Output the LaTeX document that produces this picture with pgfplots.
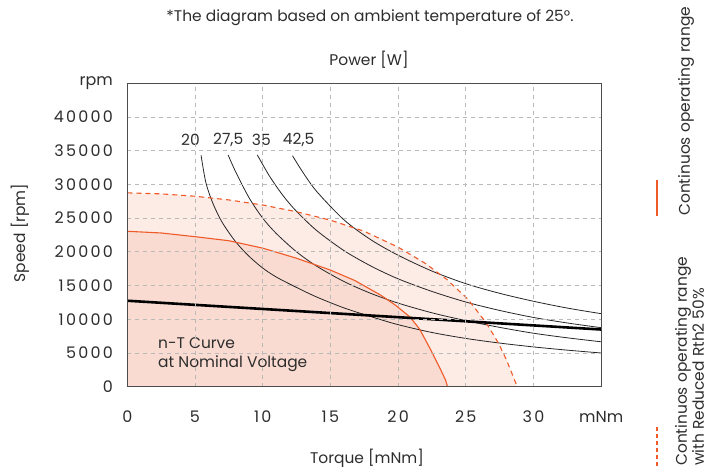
\documentclass[border=0pt]{standalone}
\usepackage{pgfplots}
\pgfplotsset{compat=1.18}
\usepackage{fontspec}
\setmainfont{Poppins}
\newfontfamily\numfont{Poppins}[LetterSpace=14]
\definecolor{orng}{RGB}{240,90,40}
\definecolor{pinkA}{RGB}{253,235,230}
\definecolor{pinkB}{RGB}{249,219,209}
\definecolor{gridc}{RGB}{185,185,185}
\definecolor{txt}{RGB}{45,45,45}

\begin{document}
\begin{tikzpicture}[font=\fontsize{15.5}{18}\selectfont, text=txt]
\useasboundingbox (0,0) rectangle (708bp,470bp);
\begin{axis}[
  at={(127.3bp,83.3bp)}, anchor=south west,
  scale only axis, width=473.9bp, height=303.4bp,
  xmin=0, xmax=35, ymin=0, ymax=45000,
  xtick={0,5,...,35}, xticklabels={0,5,10,15,20,25,30,{\rmfamily mNm}},
  ytick={0,5000,...,45000},
  yticklabels={0,5000,10000,15000,20000,25000,30000,35000,40000,{\rmfamily rpm}},
  scaled ticks=false,
  major tick length=0,
  grid=major,
  grid style={gridc, dash pattern=on 4bp off 4bp, line width=0.8bp},
  axis line style={draw=black!70, line width=0.9bp},
  axis on top,
  /pgf/number format/assume math mode=true,
  tick label style={font=\numfont\fontsize{16}{18}\selectfont, text=txt},
  xticklabel style={yshift=-21bp},
  yticklabel style={xshift=-11bp},
]
% continuous operating range with reduced Rth2 50 %
\addplot[draw=none, fill=pinkA] coordinates {
  (0,28750)(2.5,28600)(5,28250)(7.5,27700)(10,26950)(12.5,25950)(15,24700)
  (17.5,23050)(20,20700)(22,18300)(23.6,15900)(25.15,13000)(26.5,9500)
  (27.4,6500)(28,4000)(28.5,1500)(28.8,0)} \closedcycle;
% continuous operating range
\addplot[draw=none, fill=pinkB] coordinates {
  (0,23050)(2.5,22800)(5,22250)(7.5,21650)(10,20550)(12.5,19050)(15,17300)
  (16.8,15750)(18.7,13600)(19.8,12100)(20.9,10300)(21.6,8500)(22.4,5500)
  (23.1,2700)(23.5,1000)(23.65,0)} \closedcycle;

% power curves
\addplot[black!85, line width=0.8bp, smooth] coordinates {
  (5.45,34300)(5.8,30300)(6.3,27300)(7,24400)(8,21500)(9,19330)(10,17600)
  (11,16270)(12.5,14720)(14,13290)(16,11690)(18,10390)(20,9200)(22.5,8040)
  (25,7160)(27.5,6470)(30,5900)(32.5,5420)(35,5000)};
\addplot[black!85, line width=0.8bp, smooth] coordinates {
  (7.45,34360)(8,31880)(9,28000)(10,25000)(11,22730)(12.5,20000)(14,17860)
  (16,15600)(18,13830)(20,12400)(22.5,10960)(25,9800)(27.5,8800)(30,7930)
  (32.5,7250)(35,6660)};
\addplot[black!85, line width=0.8bp, smooth] coordinates {
  (9.6,34380)(10.5,31240)(11.5,28350)(12.5,26000)(14,23140)(16,20190)
  (18,17890)(20,16000)(22.5,14130)(25,12560)(27.5,11310)(30,10270)
  (32.5,9450)(35,8750)};
\addplot[black!85, line width=0.8bp, smooth] coordinates {
  (12.2,34260)(13,31700)(14,28930)(16,24750)(18,21780)(20,19500)(22.5,17150)
  (25,15280)(27.5,13850)(30,12670)(32.5,11660)(35,10830)};

% boundary lines
\addplot[orng, line width=1.1bp, dash pattern=on 5bp off 4bp] coordinates {
  (0,28750)(2.5,28600)(5,28250)(7.5,27700)(10,26950)(12.5,25950)(15,24700)
  (17.5,23050)(20,20700)(22,18300)(23.6,15900)(25.15,13000)(26.5,9500)
  (27.4,6500)(28,4000)(28.5,1500)(28.8,0)};
\addplot[orng, line width=1.1bp] coordinates {
  (0,23050)(2.5,22800)(5,22250)(7.5,21650)(10,20550)(12.5,19050)(15,17300)
  (16.8,15750)(18.7,13600)(19.8,12100)(20.9,10300)(21.6,8500)(22.4,5500)
  (23.1,2700)(23.5,1000)(23.65,0)};

% n-T curve at nominal voltage
\addplot[black, line width=2.6bp] coordinates {(0,12750)(35,8480)};

\node[inner sep=0] at (axis cs:4.67,36600) {20};
\node[inner sep=0] at (axis cs:7.45,36600) {27,5};
\node[inner sep=0] at (axis cs:9.9,36600) {35};
\node[inner sep=0] at (axis cs:12.65,36600) {42,5};
\node[inner sep=0, anchor=west, align=left, font=\fontsize{15.5}{18.5}\selectfont]
  at (axis cs:2.27,4750) {n-T Curve\\at Nominal Voltage};
\end{axis}

\node at (370bp,452bp) {*The diagram based on ambient temperature of 25°.};
\node at (369bp,410bp) {Power [W]};
\node at (367bp,12bp) {Torque [mNm]};
\node[rotate=90] at (20bp,237bp) {Speed [rpm]};

\draw[orng, line width=1.1bp] (657bp,254bp) -- (657bp,290bp);
\node[rotate=90, anchor=west, inner sep=0] at (686bp,254bp)
  {Continuos operating range};
\draw[orng, line width=1.1bp, dash pattern=on 4bp off 3bp] (657bp,4bp) -- (657bp,45bp);
\node[rotate=90, anchor=west, inner sep=0, align=left,
  font=\fontsize{15.5}{15}\selectfont] at (689.5bp,4bp)
  {Continuos operating range\\with Reduced Rth2 50\%};
\end{tikzpicture}
\end{document}
